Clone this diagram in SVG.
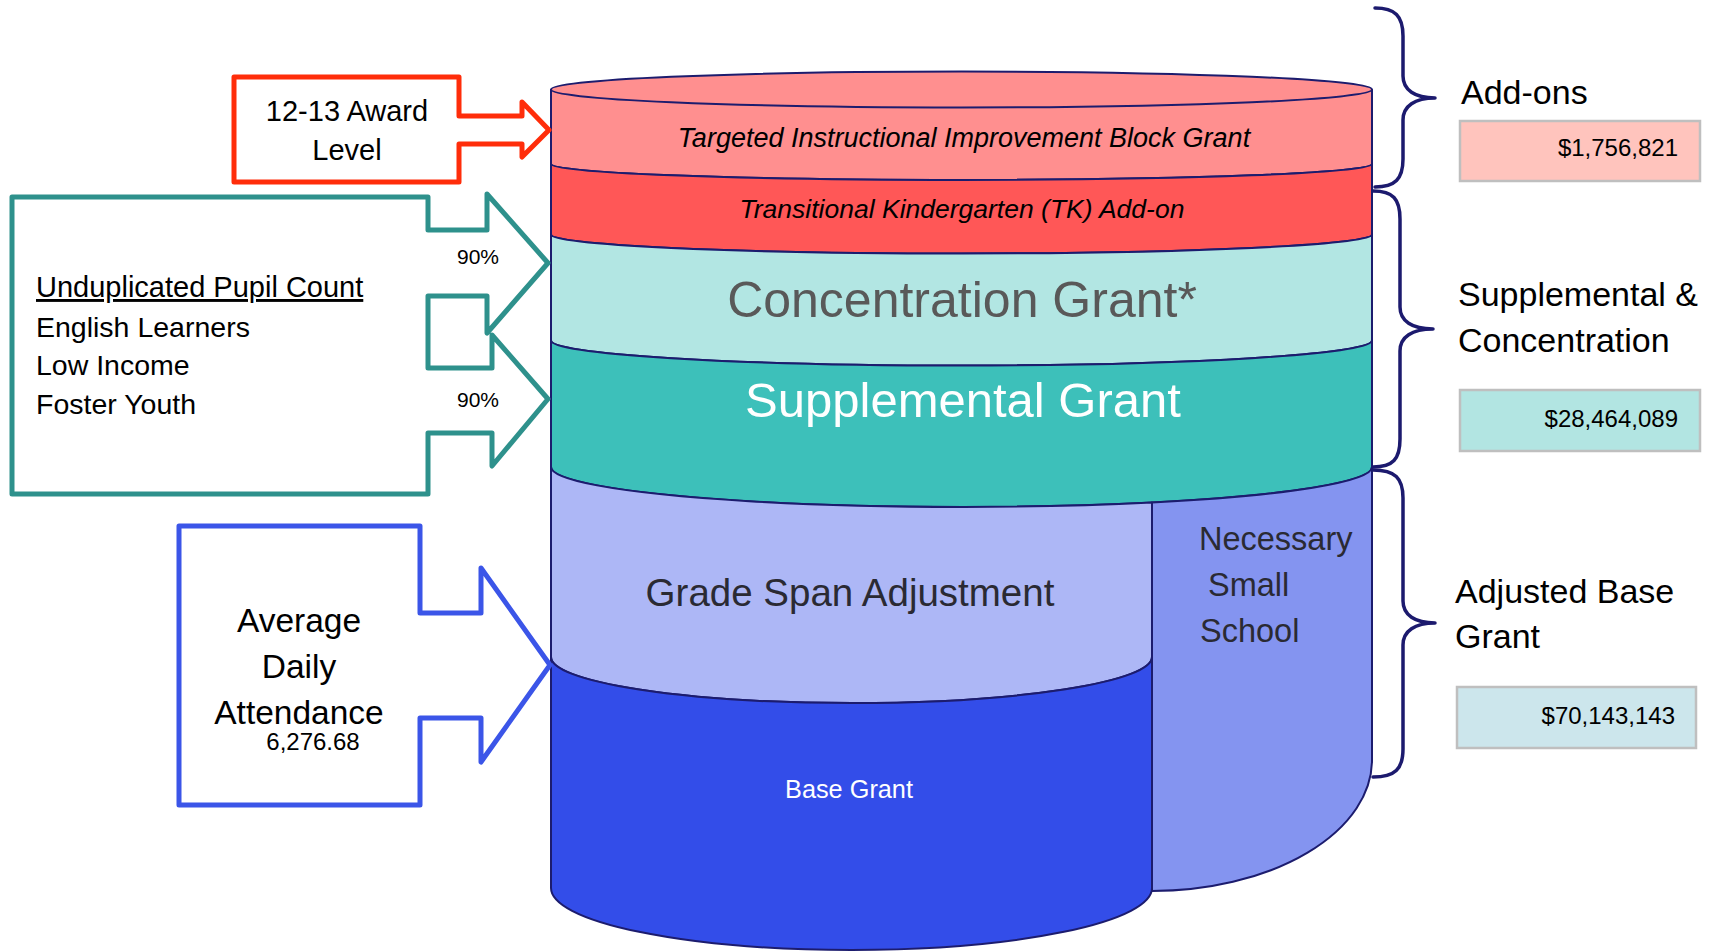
<svg xmlns="http://www.w3.org/2000/svg" width="1713" height="951" viewBox="0 0 1713 951">
<style>
text{font-family:"Liberation Sans",Arial,sans-serif}
.cyl{stroke:#1c1c6e;stroke-width:2;stroke-linejoin:round}
.brace{fill:none;stroke:#1c1a6e;stroke-width:3.5;stroke-linecap:round;stroke-linejoin:round}
.callout{fill:#fff;stroke-width:5;stroke-linejoin:round}
.valbox{stroke:#bfbfbf;stroke-width:2.5}
.lbl{font-size:34px;fill:#000}
.val{font-size:24px;fill:#000;text-anchor:end}
</style>
<rect width="1713" height="951" fill="#fff"/>

<g id="layer-tiibg">
<path class="cyl" fill="#ff8f8f" d="M551,89.5 L551,164 A410.5 16 0 0 0 1372,164 L1372,89.5 A410.5 18 0 0 0 551,89.5 Z"/>
<path class="cyl" fill="none" d="M551,89.5 A410.5 18 0 0 0 1372,89.5"/>
<text x="964" y="147" font-size="27" font-style="italic" text-anchor="middle">Targeted Instructional Improvement Block Grant</text>
</g>
<g id="layer-tk">
<path class="cyl" fill="#ff5757" d="M551,164 L551,234.5 A410.5 19 0 0 0 1372,234.5 L1372,164 A410.5 16 0 0 1 551,164 Z"/>
<text x="962" y="218" font-size="26.5" font-style="italic" text-anchor="middle">Transitional Kindergarten (TK) Add-on</text>
</g>
<g id="layer-concentration">
<path class="cyl" fill="#b2e6e3" d="M551,234.5 L551,340.5 A410.5 25 0 0 0 1372,340.5 L1372,234.5 A410.5 19 0 0 1 551,234.5 Z"/>
<text x="962" y="317" font-size="50" fill="#595959" text-anchor="middle">Concentration Grant*</text>
</g>
<g id="layer-supplemental">
<path class="cyl" fill="#3dc0ba" d="M551,340.5 L551,467 A410.5 40 0 0 0 1372,467 L1372,340.5 A410.5 25 0 0 1 551,340.5 Z"/>
<text x="963" y="417" font-size="49" fill="#fff" text-anchor="middle">Supplemental Grant</text>
</g>
<g id="layer-gradespan">
<path class="cyl" fill="#adb7f6" d="M551,467 L551,657 A300.5 46 0 0 0 1152,657 L1152,502.4 A410.5 40 0 0 1 551,467 Z"/>
<text x="850" y="606" font-size="38.5" fill="#2a2a33" text-anchor="middle">Grade Span Adjustment</text>
</g>
<g id="layer-nss">
<path class="cyl" fill="#8494f0" d="M1152,502.4 L1152,891 A220 131 0 0 0 1372,760 L1372,467 A410.5 40 0 0 1 1152,502.4 Z"/>
<text x="1199" y="550" font-size="32.5" fill="#2a2a33">Necessary</text>
<text x="1208" y="596" font-size="32.5" fill="#2a2a33">Small</text>
<text x="1200" y="642" font-size="32.5" fill="#2a2a33">School</text>
</g>
<g id="layer-base">
<path class="cyl" fill="#334de9" d="M551,657 L551,888 A300.5 62 0 0 0 1152,888 L1152,657 A300.5 46 0 0 1 551,657 Z"/>
<text x="849" y="798" font-size="25.3" fill="#fff" text-anchor="middle">Base Grant</text>
</g>

<g id="award-level">
<path class="callout" stroke="#ff2d0a" d="M234,77 L459,77 L459,116 L522,116 L522,102 L549,130 L522,157 L522,144 L459,144 L459,182 L234,182 Z"/>
<text x="347" y="121" font-size="29" text-anchor="middle">12-13 Award</text>
<text x="347" y="160" font-size="29" text-anchor="middle">Level</text>
</g>

<g id="pupil-count">
<path class="callout" stroke="#2e918c" d="M12,197 L428,197 L428,230 L487,230 L487,194 L548,263 L487,333 L487,296 L428,296 L428,368 L492,368 L492,335 L548,399 L492,466 L492,433 L428,433 L428,494 L12,494 Z"/>
<text x="36" y="297" font-size="29" text-decoration="underline">Unduplicated Pupil Count</text>
<text x="36" y="337" font-size="28.5">English Learners</text>
<text x="36" y="375" font-size="28.5">Low Income</text>
<text x="36" y="414" font-size="28.5">Foster Youth</text>
<text x="478" y="264" font-size="21" text-anchor="middle">90%</text>
<text x="478" y="407" font-size="21" text-anchor="middle">90%</text>
</g>

<g id="ada">
<path class="callout" stroke="#3b55e8" d="M179,526 L420,526 L420,613 L481,613 L481,568 L550,665 L481,762 L481,718 L420,718 L420,805 L179,805 Z"/>
<text x="299" y="632" font-size="33.5" text-anchor="middle">Average</text>
<text x="299" y="678" font-size="33.5" text-anchor="middle">Daily</text>
<text x="299" y="724" font-size="33.5" text-anchor="middle">Attendance</text>
<text x="313" y="750" font-size="24" text-anchor="middle">6,276.68</text>
</g>

<g id="connectors">
<path class="brace" d="M1375,8 C1395,8 1403,16 1403,36 L1403,76 C1403,90 1415,98 1435,98 C1415,98 1403,106 1403,120 L1403,159 C1403,179 1395,187 1375,187"/>
<path class="brace" d="M1373,191 C1393,191 1400,199 1400,219 L1400,307 C1400,321 1412,329 1433,329 C1412,329 1400,337 1400,351 L1400,439 C1400,459 1393,467 1373,467"/>
<path class="brace" d="M1373,470 C1395,470 1403,478 1403,498 L1403,601 C1403,615 1415,623 1435,623 C1415,623 1403,631 1403,645 L1403,749 C1403,769 1395,777 1373,777"/>
</g>

<g id="addons-label">
<text class="lbl" x="1461" y="104">Add-ons</text>
<rect class="valbox" x="1460" y="121" width="240" height="60" fill="#ffc4bd"/>
<text class="val" x="1678" y="156">$1,756,821</text>
</g>
<g id="sc-label">
<text class="lbl" x="1458" y="306">Supplemental &amp;</text>
<text class="lbl" x="1458" y="352">Concentration</text>
<rect class="valbox" x="1460" y="390" width="240" height="61" fill="#b2e5e2"/>
<text class="val" x="1678" y="427">$28,464,089</text>
</g>
<g id="abg-label">
<text class="lbl" x="1455" y="603">Adjusted Base</text>
<text class="lbl" x="1455" y="648">Grant</text>
<rect class="valbox" x="1457" y="687" width="239" height="61" fill="#cce6ec"/>
<text class="val" x="1675" y="724">$70,143,143</text>
</g>
</svg>
